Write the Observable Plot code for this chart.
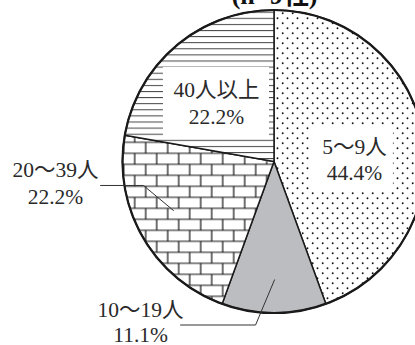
<!DOCTYPE html>
<html><head><meta charset="utf-8">
<script src="https://cdn.jsdelivr.net/npm/d3@7"></script>
<script src="https://cdn.jsdelivr.net/npm/@observablehq/plot@0.6"></script>
<style>html,body{margin:0;padding:0;background:#fff}</style>
</head><body><div id="chart"></div>
<script>
// ---- data ----
const categories = ["5～9人", "10～19人", "20～39人", "40人以上"];
const shares = [44.4, 11.1, 22.2, 22.2];
const shareLabels = ["44.4%", "11.1%", "22.2%", "22.2%"];
const titleText = "(n=9社)";

// ---- layout (pie units: centre 0,0, radius 1) ----
const fills = ["dots", "gray", "brick", "hlines"];
const labelX = [0.528, -0.884, -1.446, -0.383];
const nameY = [0.056, -1.020, -0.102, 0.426];
const shareY = [-0.122, -1.190, -0.274, 0.254];
const boxes = [
  {x1: 0.244, x2: 0.785, y1: -0.195, y2: 0.234},
  {x1: -0.733, x2: -0.033, y1: 0.168, y2: 0.624}
];
const leaders = [
  {id: "a", x: -1.148, y: -0.155}, {id: "a", x: -0.865, y: -0.155}, {id: "a", x: -0.667, y: -0.32},
  {id: "b", x: -0.620, y: -1.076}, {id: "b", x: -0.125, y: -1.076}, {id: "b", x: 0, y: -0.778}
];

const slices = categories.map((c, i) => ({category: c, value: shares[i], fill: fills[i]}));
const labels = categories.map((c, i) => ({name: c, share: shareLabels[i], x: labelX[i], ny: nameY[i], sy: shareY[i]}));

const font = "Liberation Serif, Noto Sans CJK JP, serif";

function pieMark(index, scales) {
  const cx = scales.x(0), cy = scales.y(0), r = scales.x(1) - cx;
  const g = d3.create("svg:g");
  const defs = g.append("defs");
  const T = `translate(${-cx},${-cy})`;
  // dots
  const pd = defs.append("pattern").attr("id", "pat-dots").attr("patternUnits", "userSpaceOnUse")
    .attr("width", 10).attr("height", 10).attr("x", 0).attr("y", 0).attr("patternTransform", T);
  pd.append("rect").attr("width", 10).attr("height", 10).attr("fill", "#fff");
  pd.append("circle").attr("cx", 2.7).attr("cy", 3.3).attr("r", 0.95).attr("fill", "#111");
  pd.append("circle").attr("cx", 7.5).attr("cy", 8.3).attr("r", 0.95).attr("fill", "#111");
  // horizontal lines
  const ph = defs.append("pattern").attr("id", "pat-hlines").attr("patternUnits", "userSpaceOnUse")
    .attr("width", 10).attr("height", 6.1).attr("x", 0).attr("y", -0.5).attr("patternTransform", T);
  ph.append("rect").attr("width", 10).attr("height", 6.1).attr("fill", "#fff");
  ph.append("rect").attr("width", 10).attr("height", 1).attr("y", 0).attr("fill", "#444");
  // brick
  const pb = defs.append("pattern").attr("id", "pat-brick").attr("patternUnits", "userSpaceOnUse")
    .attr("width", 22).attr("height", 22).attr("x", 1.7).attr("y", 20.3).attr("patternTransform", T);
  pb.append("rect").attr("width", 22).attr("height", 22).attr("fill", "#fff");
  pb.append("path").attr("d", "M0,1H22M0,12H22M1,1V12M12,12V22M12,0V1")
    .attr("stroke", "#111").attr("stroke-width", 1.2).attr("fill", "none");

  const fillOf = f => f === "gray" ? "#bcbdc0" : `url(#pat-${f})`;
  const arcs = d3.pie().sort(null).value(d => d.value)(slices);
  const arc = d3.arc().innerRadius(0).outerRadius(r);
  const pg = g.append("g").attr("transform", `translate(${cx},${cy})`);
  pg.selectAll("path").data(arcs).join("path")
    .attr("d", arc).attr("fill", d => fillOf(d.data.fill))
    .attr("stroke", "#1a1a1a").attr("stroke-width", 1.5).attr("stroke-linejoin", "round");
  pg.append("circle").attr("r", r).attr("fill", "none").attr("stroke", "#1a1a1a").attr("stroke-width", 2.2);
  return g.node();
}

const chart = Plot.plot({
  width: 415,
  height: 345,
  margin: 0,
  style: {background: "#fff", overflow: "hidden"},
  x: {domain: [-1, 1], range: [122.5, 425.5], axis: null},
  y: {domain: [-1, 1], range: [313, 10], axis: null},
  marks: [
    pieMark,
    Plot.rect(boxes, {x1: "x1", x2: "x2", y1: "y1", y2: "y2", fill: "#fff"}),
    Plot.line(leaders, {x: "x", y: "y", z: "id", stroke: "#333", strokeWidth: 1}),
    Plot.text(labels, {x: "x", y: "ny", text: "name", lineAnchor: "bottom", textAnchor: "middle",
      fontSize: 21.5, fontFamily: font, fill: "#2a2a2a"}),
    Plot.text(labels, {x: "x", y: "sy", text: "share", lineAnchor: "bottom", textAnchor: "middle",
      fontSize: 21.5, fontFamily: font, fill: "#2a2a2a"}),
    Plot.text([titleText], {x: 0, y: 1.044, text: d => d, lineAnchor: "bottom", textAnchor: "middle",
      fontSize: 26, fontFamily: font, fill: "#111", fontWeight: "bold"})
  ]
});
document.getElementById("chart").append(chart);
</script>
</body></html>
